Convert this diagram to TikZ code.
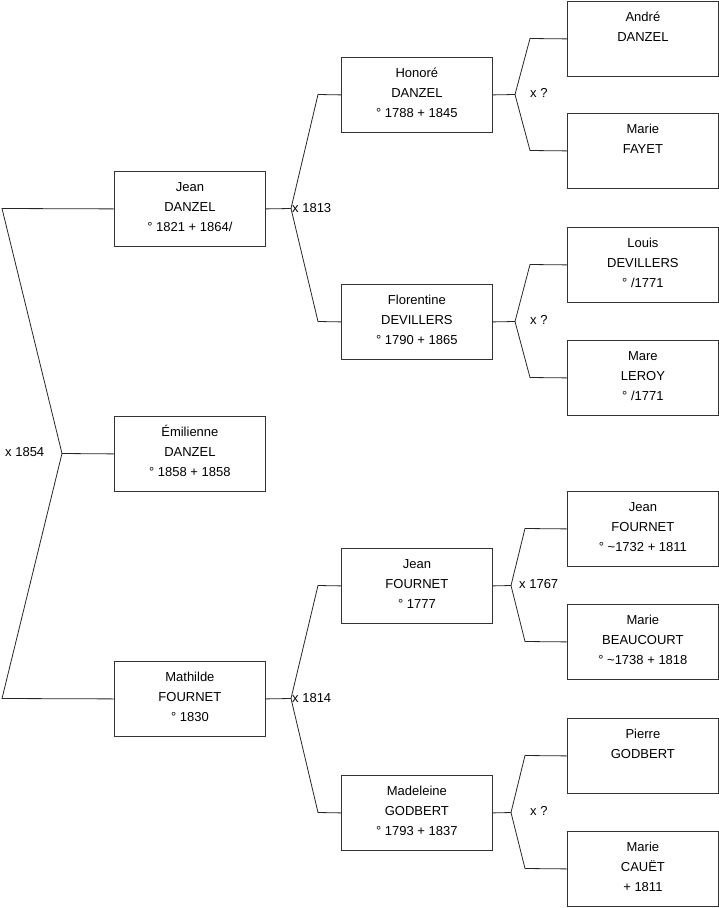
\documentclass[tikz,border=0pt]{standalone}
\usepackage{fontspec}
\setmainfont{Liberation Sans}
\tikzset{
  person/.style={draw=black!80, line width=0.8pt, inner sep=0pt, anchor=north west,
    font=\fontsize{13}{20}\selectfont},
  conn/.style={draw=black!85, line width=0.8pt},
  mlabel/.style={font=\fontsize{13}{16}\selectfont, inner sep=1pt, anchor=west}
}
\newcommand{\pbx}[1]{\parbox[t][75pt][t]{151pt}{\centering\rule{0pt}{20pt}#1}}
\newcommand{\tld}{\char"7E\relax}
\begin{document}
\begin{tikzpicture}[x=1pt,y=-1pt]
\useasboundingbox (0,0) rectangle (719,908);
% generation 1
\node[person] (jean)  at (114,171) {\pbx{Jean\\DANZEL\\° 1821 + 1864/}};
\node[person] (emil)  at (114,416) {\pbx{Émilienne\\DANZEL\\° 1858 + 1858}};
\node[person] (math)  at (114,661) {\pbx{Mathilde\\FOURNET\\° 1830}};
% generation 2
\node[person] (hon)   at (341,57)  {\pbx{Honoré\\DANZEL\\° 1788 + 1845}};
\node[person] (flo)   at (341,284) {\pbx{Florentine\\DEVILLERS\\° 1790 + 1865}};
\node[person] (jf)    at (341,548) {\pbx{Jean\\FOURNET\\° 1777}};
\node[person] (mad)   at (341,775) {\pbx{Madeleine\\GODBERT\\° 1793 + 1837}};
% generation 3
\node[person] (andre) at (567,1)   {\pbx{André\\DANZEL}};
\node[person] (fayet) at (567,113) {\pbx{Marie\\FAYET}};
\node[person] (louis) at (567,227) {\pbx{Louis\\DEVILLERS\\° /1771}};
\node[person] (leroy) at (567,340) {\pbx{Mare\\LEROY\\° /1771}};
\node[person] (jf2)   at (567,491) {\pbx{Jean\\FOURNET\\° \tld1732 + 1811}};
\node[person] (beau)  at (567,604) {\pbx{Marie\\BEAUCOURT\\° \tld1738 + 1818}};
\node[person] (pier)  at (567,718) {\pbx{Pierre\\GODBERT}};
\node[person] (cauet) at (567,831) {\pbx{Marie\\CAUËT\\+ 1811}};
% junction coordinates
\coordinate (a0) at (2,208.5);
\coordinate (a1) at (2,698.5);
\coordinate (j0) at (62,453.5);
\coordinate (j1) at (291,208.5);
\coordinate (b1) at (318,94.5);
\coordinate (b2) at (318,321.5);
\coordinate (j2) at (291,698.5);
\coordinate (b3) at (318,585.5);
\coordinate (b4) at (318,812.5);
\coordinate (j3) at (515,94.5);
\coordinate (c1) at (530,38.5);
\coordinate (c2) at (530,150.5);
\coordinate (j4) at (515,321.5);
\coordinate (c3) at (530,264.5);
\coordinate (c4) at (530,377.5);
\coordinate (j5) at (511,585.5);
\coordinate (c5) at (525,528.5);
\coordinate (c6) at (525,641.5);
\coordinate (j6) at (511,812.5);
\coordinate (c7) at (525,755.5);
\coordinate (c8) at (525,868.5);
% connectors
\draw[conn] (jean.west) -- (a0) -- (j0) -- (emil.west);
\draw[conn] (j0) -- (a1) -- (math.west);
\draw[conn] (jean.east) -- (j1) -- (b1) -- (hon.west);
\draw[conn] (j1) -- (b2) -- (flo.west);
\draw[conn] (math.east) -- (j2) -- (b3) -- (jf.west);
\draw[conn] (j2) -- (b4) -- (mad.west);
\draw[conn] (hon.east) -- (j3) -- (c1) -- (andre.west);
\draw[conn] (j3) -- (c2) -- (fayet.west);
\draw[conn] (flo.east) -- (j4) -- (c3) -- (louis.west);
\draw[conn] (j4) -- (c4) -- (leroy.west);
\draw[conn] (jf.east) -- (j5) -- (c5) -- (jf2.west);
\draw[conn] (j5) -- (c6) -- (beau.west);
\draw[conn] (mad.east) -- (j6) -- (c7) -- (pier.west);
\draw[conn] (j6) -- (c8) -- (cauet.west);
% marriage labels
\node[mlabel] (m0) at (4,452) {x 1854};
\node[mlabel] (m1) at (j1) {x 1813};
\node[mlabel] (m2) at (j2) {x 1814};
\node[mlabel] (m3) at (529,93) {x ?};
\node[mlabel] (m4) at (529,320) {x ?};
\node[mlabel] (m5) at (518,584) {x 1767};
\node[mlabel] (m6) at (529,811) {x ?};
\end{tikzpicture}
\end{document}
